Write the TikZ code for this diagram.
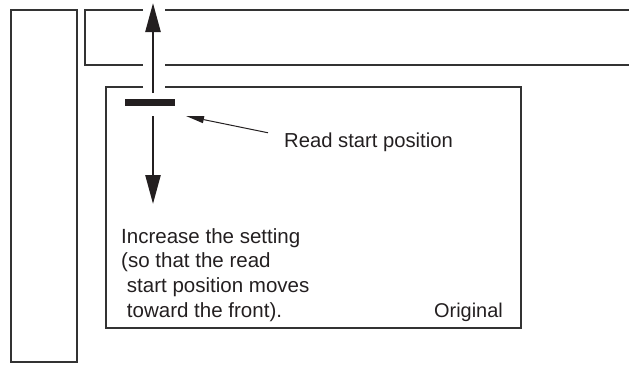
\documentclass[tikz,border=0pt]{standalone}
\usepackage{fontspec}
\setmainfont{Liberation Sans}
\usetikzlibrary{arrows.meta}
\definecolor{linecol}{HTML}{333333}
\definecolor{textcol}{HTML}{231F20}
\tikzset{
  frame/.style={draw=linecol,line width=1.2bp},
  movearrow/.style={draw=textcol,line width=2.5bp,-{Triangle[length=29bp,width=15bp]}},
  leader/.style={draw=textcol,line width=1bp,-{Triangle[length=18bp,width=7bp]}},
  txt/.style={font=\fontsize{20.6}{25}\selectfont,text=textcol,inner sep=0pt}
}
\begin{document}
\begin{tikzpicture}[x=1bp,y=-1bp]
\useasboundingbox (0,0) rectangle (629,367);
% side guide
\draw[frame] (11,10) rectangle (77,362);
% top guide, open to the right, cut where the arrow passes
\draw[frame] (143,10) -- (85,10) -- (85,65) -- (143,65);
\draw[frame] (165,10) -- (629,10);
\draw[frame] (165,65) -- (629,65);
% original
\draw[frame,line width=1.6bp] (143,87) -- (106,87) -- (106,328) -- (521,328) -- (521,87) -- (165,87);
% read start bar and its moves
\fill[textcol] (125,99) rectangle (175,106);
\coordinate (upfrom) at (153,93);
\coordinate (upto) at (153,3);
\coordinate (downfrom) at (153,116);
\coordinate (downto) at (153,204);
\coordinate (barend) at (186,116);
\draw[movearrow] (upfrom) -- (upto);
\draw[movearrow] (downfrom) -- (downto);
\node[txt,font=\fontsize{20.3}{25}\selectfont,anchor=base west] (readpos) at (284,147) {Read start position};
\draw[leader] (readpos.west) ++(-16,-9) -- (barend);
\node[txt,anchor=north west,align=left] (increase) at (121,228)
  {Increase the setting\\(so that the read\\\hspace*{0.28em}start position moves\\\hspace*{0.28em}toward the front).};
\node[txt,font=\fontsize{20}{25}\selectfont,anchor=base east] (original) at (503,317) {Original};
\end{tikzpicture}
\end{document}
